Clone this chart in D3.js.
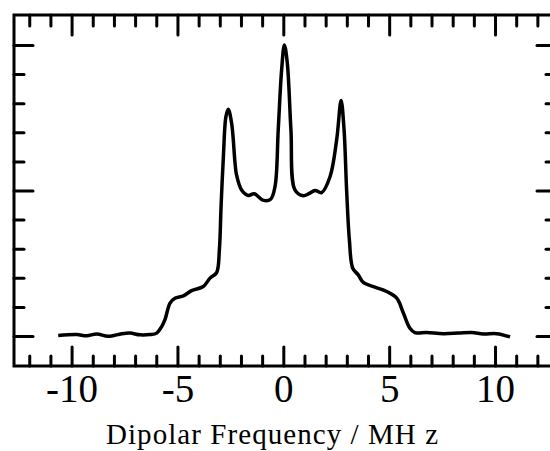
<!DOCTYPE html>
<html>
<head>
<meta charset="utf-8">
<script src="https://cdn.jsdelivr.net/npm/d3@7"></script>
<style>
  html, body { margin: 0; padding: 0; background: #fff; }
  svg { display: block; }
</style>
</head>
<body>
<div id="viz-container"></div>
<script>
// dipolar frequency (MHz) and spectrum intensity
const freqMHz = [-10.63, -9.76, -9.29, -8.81, -8.27, -7.63, -7.24, -6.77, -6.30, -5.98,
  -5.74, -5.59, -5.35, -5.12, -4.72, -4.33, -3.78, -3.46, -3.15, -3.02,
  -2.94, -2.83, -2.71, -2.60, -2.44, -2.28, -2.21, -1.97, -1.65, -1.38,
  -0.94, -0.60, -0.39, -0.24, -0.08, 0.05, 0.19, 0.36, 0.55, 0.94,
  1.21, 1.50, 1.81, 2.21, 2.52, 2.73, 2.87, 2.99, 3.12, 3.28,
  3.54, 3.78, 4.33, 4.88, 5.36, 5.67, 5.98, 6.22, 6.77, 7.56,
  8.27, 8.90, 9.45, 10.08, 10.71];
const intensity = [0.02, 0.05, 0.01, 0.07, -0.01, 0.08, 0.10, 0.04, 0.05, 0.10,
  0.33, 0.56, 1.13, 1.30, 1.38, 1.56, 1.70, 1.99, 2.18, 2.96,
  4.45, 6.17, 7.54, 7.79, 7.31, 5.94, 5.54, 5.02, 4.83, 4.89,
  4.66, 4.70, 5.14, 7.08, 9.14, 10.0, 9.37, 7.08, 5.02, 4.82,
  4.89, 5.00, 4.93, 5.48, 6.74, 8.09, 7.08, 5.02, 3.31, 2.33,
  2.10, 1.84, 1.68, 1.53, 1.30, 0.79, 0.27, 0.12, 0.12, 0.08,
  0.10, 0.12, 0.07, 0.08, -0.03];

const xMajorTicks = [-10, -5, 0, 5, 10];
const xMinorTicks = [-12, -11, -9, -8, -7, -6, -4, -3, -2, -1, 1, 2, 3, 4, 6, 7, 8, 9, 11, 12];
const yMajorTicks = [0, 5, 10];
const yMinorTicks = [1, 2, 3, 4, 6, 7, 8, 9];
const xTitle = "Dipolar Frequency / MH z";

const W = 550, H = 451;
const frame = { left: 14, right: 556, top: 15, bottom: 366 };
const serif = "'Liberation Serif', 'Times New Roman', serif";

const svg = d3.select("#viz-container")
  .append("svg")
  .attr("width", W)
  .attr("height", H);

const x = d3.scaleLinear()
  .domain([-12.72, 12.88])
  .range([frame.left, frame.right]);
const y = d3.scaleLinear()
  .domain([-1.03, 11.03])
  .range([frame.bottom, frame.top]);

// ticks point inward on all four sides
function drawAxis(axis, tx, ty) {
  const g = svg.append("g")
    .attr("transform", `translate(${tx},${ty})`)
    .call(axis);
  g.select(".domain").remove();
  g.selectAll(".tick line")
    .attr("stroke", "#000")
    .attr("stroke-width", 3)
    .attr("stroke-linecap", "round");
  return g;
}

drawAxis(d3.axisTop(x).tickValues(xMajorTicks).tickSize(-20).tickFormat(""), 0, frame.top);
drawAxis(d3.axisTop(x).tickValues(xMinorTicks).tickSize(-11).tickFormat(""), 0, frame.top);
drawAxis(d3.axisLeft(y).tickValues(yMajorTicks).tickSize(-19).tickFormat(""), frame.left, 0);
drawAxis(d3.axisLeft(y).tickValues(yMinorTicks).tickSize(-10).tickFormat(""), frame.left, 0);
drawAxis(d3.axisRight(y).tickValues(yMajorTicks).tickSize(-19).tickFormat(""), frame.right, 0);
drawAxis(d3.axisRight(y).tickValues(yMinorTicks).tickSize(-10).tickFormat(""), frame.right, 0);
drawAxis(d3.axisBottom(x).tickValues(xMinorTicks).tickSize(-10).tickFormat(""), 0, frame.bottom);

const bottomMajor = drawAxis(
  d3.axisBottom(x).tickValues(xMajorTicks).tickSize(-19).tickPadding(8).tickFormat(d => String(d)),
  0, frame.bottom);
bottomMajor.selectAll(".tick text")
  .attr("fill", "#000")
  .attr("font-family", serif)
  .attr("font-size", "39px");

// frame
svg.append("rect")
  .attr("x", frame.left)
  .attr("y", frame.top)
  .attr("width", frame.right - frame.left)
  .attr("height", frame.bottom - frame.top)
  .attr("fill", "none")
  .attr("stroke", "#000")
  .attr("stroke-width", 3);

// spectrum
const line = d3.line()
  .x((d, i) => x(freqMHz[i]))
  .y(d => y(d))
  .curve(d3.curveCatmullRom.alpha(0.5));

svg.append("path")
  .datum(intensity)
  .attr("d", line)
  .attr("fill", "none")
  .attr("stroke", "#000")
  .attr("stroke-width", 3.5)
  .attr("stroke-linejoin", "round");

// axis title
svg.append("text")
  .attr("x", 272)
  .attr("y", 444)
  .attr("text-anchor", "middle")
  .attr("font-family", serif)
  .attr("font-size", "29px")
  .attr("textLength", 332)
  .attr("lengthAdjust", "spacing")
  .text(xTitle);
</script>
</body>
</html>
